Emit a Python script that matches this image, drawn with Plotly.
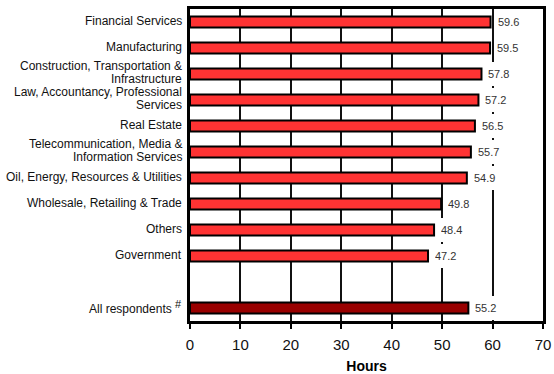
import plotly.graph_objects as go

categories = [
    "Financial Services",
    "Manufacturing",
    "Construction, Transportation &<br>Infrastructure",
    "Law, Accountancy, Professional<br>Services",
    "Real Estate",
    "Telecommunication, Media &<br>Information Services",
    "Oil, Energy, Resources & Utilities",
    "Wholesale, Retailing & Trade",
    "Others",
    "Government",
]
values = [59.6, 59.5, 57.8, 57.2, 56.5, 55.7, 54.9, 49.8, 48.4, 47.2]
spacer = " "
total_label = "All respondents <sup><span style='font-size:11px'>#</span></sup>"
total_value = 55.2
x_ticks = [0, 10, 20, 30, 40, 50, 60, 70]
x_title = "Hours"

FONT = "Liberation Sans, Arial, sans-serif"

fig = go.Figure()
fig.add_trace(go.Bar(
    x=values, y=categories, orientation="h",
    marker=dict(color="#FF3333", line=dict(color="black", width=2)),
    width=0.42, showlegend=False, hoverinfo="skip",
))
fig.add_trace(go.Bar(
    x=[None], y=[spacer], orientation="h", showlegend=False, hoverinfo="skip",
))
fig.add_trace(go.Bar(
    x=[total_value], y=[total_label], orientation="h",
    marker=dict(color="#990000", line=dict(color="black", width=2)),
    width=0.42, showlegend=False, hoverinfo="skip",
))

annos = []
# value labels with white boxes (they hide the grid lines behind them)
for c, v in list(zip(categories, values)) + [(total_label, total_value)]:
    annos.append(dict(
        x=v, y=c, xref="x", yref="y", text=f"{v}", showarrow=False,
        xanchor="left", yanchor="middle", xshift=4, align="left",
        bgcolor="white", borderwidth=0, borderpad=3, width=24, height=18,
        font=dict(family=FONT, size=11, color="#333333"),
    ))

# category labels, one text per line with tight line spacing
LINE = 13
for c in categories + [total_label]:
    lines = c.split("<br>")
    n = len(lines)
    for i, ln in enumerate(lines):
        off = ((n - 1) / 2 - i) * LINE + 1.5
        annos.append(dict(
            x=0, y=c, xref="paper", yref="y", text=ln, showarrow=False,
            xanchor="right", yanchor="middle", xshift=-6, yshift=off,
            font=dict(family=FONT, size=12, color="#111111"),
        ))

order = categories + [spacer, total_label]

fig.update_layout(
    width=554, height=374,
    margin=dict(l=190, r=11, t=9, b=53, autoexpand=False),
    paper_bgcolor="white", plot_bgcolor="white",
    barmode="overlay",
    annotations=annos,
    font=dict(family=FONT, color="black"),
    xaxis=dict(
        range=[0, 70], tickvals=x_ticks, ticktext=[str(t) for t in x_ticks],
        showgrid=True, gridcolor="#111111", gridwidth=2,
        showline=True, linecolor="black", linewidth=2.5, mirror=True,
        ticks="outside", ticklen=5, tickwidth=2, tickcolor="black",
        tickfont=dict(size=15, family=FONT, color="#111111"),
        ticklabelstandoff=3,
        zeroline=False, automargin=False,
        title=dict(text="<b>" + x_title + "</b>", font=dict(size=14, family=FONT), standoff=12),
    ),
    yaxis=dict(
        type="category", categoryorder="array", categoryarray=order,
        autorange="reversed",
        showgrid=False, zeroline=False, showticklabels=False,
        showline=True, linecolor="black", linewidth=2.5, mirror=True,
        ticks="", automargin=False,
    ),
)

fig.write_html("out.html")
